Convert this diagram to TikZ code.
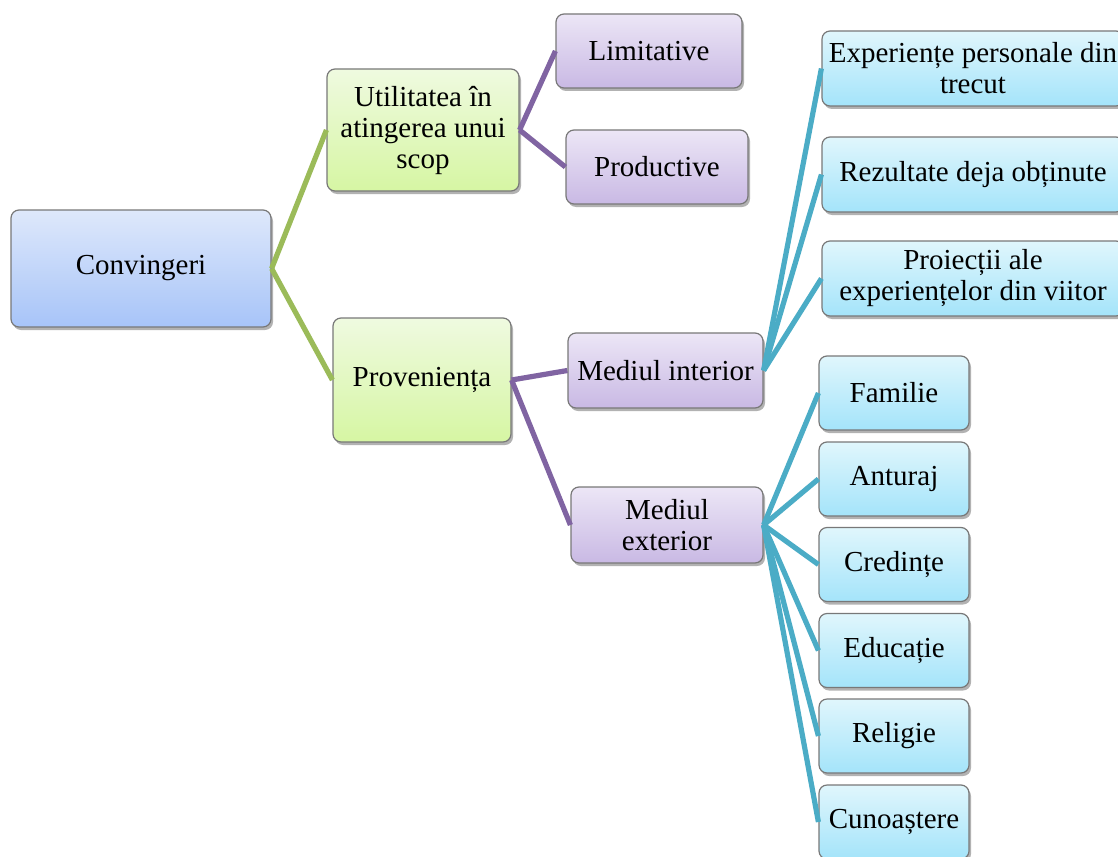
\documentclass[tikz,border=0pt]{standalone}
\usepackage{fontspec}
\setmainfont{Liberation Serif}
\usetikzlibrary{shadows}
\definecolor{lgreen}{HTML}{9BBB59}
\definecolor{lpurple}{HTML}{8064A2}
\definecolor{lcyan}{HTML}{4BACC6}
\definecolor{bluetop}{RGB}{222,232,250}
\definecolor{bluebot}{RGB}{167,196,249}
\definecolor{greentop}{RGB}{239,250,224}
\definecolor{greenbot}{RGB}{214,246,163}
\definecolor{purptop}{RGB}{236,230,246}
\definecolor{purpbot}{RGB}{201,185,228}
\definecolor{cyantop}{RGB}{224,246,252}
\definecolor{cyanbot}{RGB}{164,228,250}
\definecolor{bordgray}{RGB}{120,120,120}
\tikzset{
  box/.style={draw=bordgray, line width=1.2pt, rounded corners=8pt, align=center,
    inner sep=2pt, font=\fontsize{29}{31}\selectfont,
    drop shadow={shadow xshift=2pt, shadow yshift=-3pt, opacity=0.3, fill=black}},
  bluebox/.style={box, top color=bluetop, bottom color=bluebot},
  greenbox/.style={box, top color=greentop, bottom color=greenbot},
  purpbox/.style={box, top color=purptop, bottom color=purpbot},
  cyanbox/.style={box, top color=cyantop, bottom color=cyanbot},
  conn/.style={line width=5.2pt},
}
\begin{document}
\begin{tikzpicture}[x=1pt,y=-1pt]
\useasboundingbox (0,0) rectangle (1118,856);
\clip (0,0) rectangle (1118,856);
% level 0
\node[bluebox, minimum width=260pt, minimum height=117pt] (conv) at (141,268.5) {Convingeri};
% level 1
\node[greenbox, minimum width=192pt, minimum height=122pt] (util) at (423,130) {Utilitatea în\\atingerea unui\\scop};
\node[greenbox, minimum width=178pt, minimum height=124pt] (prov) at (422,380) {Proveniența};
% level 2
\node[purpbox, minimum width=186pt, minimum height=74pt] (lim) at (649,51) {Limitative};
\node[purpbox, minimum width=182pt, minimum height=74pt] (prod) at (657,167) {Productive};
\node[purpbox, minimum width=195pt, minimum height=75pt] (medi) at (665.5,370.5) {Mediul interior};
\node[purpbox, minimum width=192pt, minimum height=76pt] (mede) at (667,525) {Mediul\\exterior};
% level 3 (interior)
\node[cyanbox, minimum width=302pt, minimum height=75pt] (exp) at (973,68.5) {Experiențe personale din\\trecut};
\node[cyanbox, minimum width=302pt, minimum height=75pt] (rez) at (973,174.5) {Rezultate deja obținute};
\node[cyanbox, minimum width=302pt, minimum height=75pt] (proi) at (973,278.5) {Proiecții ale\\experiențelor din viitor};
% level 3 (exterior)
\node[cyanbox, minimum width=150pt, minimum height=74pt] (fam) at (894,393) {Familie};
\node[cyanbox, minimum width=150pt, minimum height=74pt] (ant) at (894,479) {Anturaj};
\node[cyanbox, minimum width=150pt, minimum height=74pt] (cred) at (894,564.5) {Credințe};
\node[cyanbox, minimum width=150pt, minimum height=74pt] (edu) at (894,650.5) {Educație};
\node[cyanbox, minimum width=150pt, minimum height=74pt] (rel) at (894,736) {Religie};
\node[cyanbox, minimum width=150pt, minimum height=74pt] (cun) at (894,822) {Cunoaștere};
% connectors
\draw[conn, lgreen] (conv.east) -- (util.west);
\draw[conn, lgreen] (conv.east) -- (prov.west);
\draw[conn, lpurple] (util.east) -- (lim.west);
\draw[conn, lpurple] (util.east) -- (prod.west);
\draw[conn, lpurple] (prov.east) -- (medi.west);
\draw[conn, lpurple] (prov.east) -- (mede.west);
\foreach \t in {exp,rez,proi} \draw[conn, lcyan] (medi.east) -- (\t.west);
\foreach \t in {fam,ant,cred,edu,rel,cun} \draw[conn, lcyan] (mede.east) -- (\t.west);
\end{tikzpicture}
\end{document}
